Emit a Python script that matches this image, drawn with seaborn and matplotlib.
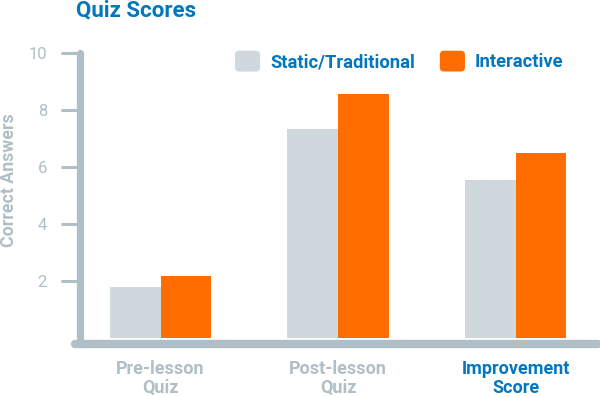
import seaborn as sns
import pandas as pd
import matplotlib as mpl
from matplotlib import pyplot as plt
from matplotlib.patches import FancyBboxPatch
from matplotlib.legend_handler import HandlerPatch

# Chart values
categories = ["Pre-lesson\nQuiz", "Post-lesson\nQuiz", "Improvement\nScore"]
static_scores = [1.77, 7.31, 5.53]
interactive_scores = [2.15, 8.54, 6.47]
series_names = ["Static/Traditional", "Interactive"]
y_ticks = [2, 4, 6, 8, 10]

# Colours
GREY_BAR = "#cfd8dc"
ORANGE = "#ff6d00"
AXIS_GREY = "#b0bec5"
BLUE = "#0277bd"

df = pd.DataFrame({
    "category": categories * 2,
    "score": static_scores + interactive_scores,
    "series": [series_names[0]] * 3 + [series_names[1]] * 3,
})


class RoundedHandler(HandlerPatch):
    """Legend swatch drawn as a square with rounded corners"""

    def create_artists(self, legend, orig_handle, xdescent, ydescent,
                       width, height, fontsize, trans):
        patch = FancyBboxPatch((-xdescent, -ydescent), width, height,
                               boxstyle="round,pad=0,rounding_size=3",
                               facecolor=orig_handle.get_facecolor(),
                               edgecolor="none", transform=trans)
        return [patch]


sns.set_theme(style="white")
mpl.rcParams["font.family"] = ["Roboto", "DejaVu Sans"]

fig = plt.figure(figsize=(6, 3.96), dpi=100)
# axes frame: x from 75px to 598px, y from value 0 (337.7px) up to 10 (52.7px)
ax = fig.add_axes([75 / 600, 1 - 337.7 / 396, 523 / 600, 285 / 396])

sns.barplot(data=df, x="category", y="score", hue="series",
            palette=[GREY_BAR, ORANGE], width=0.57, saturation=1,
            linewidth=0, ax=ax)

px_per_cat = 177.6
ax.set_xlim((75 - 160.5) / px_per_cat, (598 - 160.5) / px_per_cat)
ax.set_ylim(0, 10)
ax.set_yticks(y_ticks)

# Spines: thick grey, only left and bottom
for side in ["top", "right"]:
    ax.spines[side].set_visible(False)
ax.spines["left"].set_position(("data", (79.7 - 160.5) / px_per_cat))
ax.spines["bottom"].set_position(("outward", 4.8))
for side in ["left", "bottom"]:
    ax.spines[side].set_color(AXIS_GREY)
    ax.spines[side].set_capstyle("round")
ax.spines["left"].set_linewidth(5.2)
ax.spines["bottom"].set_linewidth(6)

ax.tick_params(axis="y", length=13.5, width=2.2, color=AXIS_GREY,
               labelcolor=AXIS_GREY, labelsize=12, pad=10, left=True)
ax.tick_params(axis="x", length=0, pad=11)
for label in ax.get_xticklabels():
    label.set_fontsize(13)
    label.set_fontweight("bold")
    label.set_color(AXIS_GREY)
    label.set_linespacing(1.1)
ax.get_xticklabels()[-1].set_color(BLUE)

ax.set_xlabel("")
ax.set_ylabel("Correct Answers", fontsize=12.8, fontweight="bold", color=AXIS_GREY)
ax.yaxis.set_label_coords(-0.109, 0.553)

fig.text(76 / 600, 1 - 16 / 396, "Quiz Scores", fontsize=16, fontweight="bold",
         color=BLUE, va="baseline", ha="left")

handles, labels = ax.get_legend_handles_labels()
leg = ax.legend(handles, labels, loc="upper left",
                bbox_to_anchor=(235 / 600, 1 - 50.7 / 396),
                bbox_transform=fig.transFigure, ncol=2, frameon=False,
                handlelength=1.37, handleheight=1.37, handletextpad=0.55,
                columnspacing=1.35, borderaxespad=0, borderpad=0, fontsize=13.2,
                handler_map={h: RoundedHandler() for h in handles})
for text in leg.get_texts():
    text.set_color(BLUE)
    text.set_fontweight("bold")

plt.savefig("out.png", dpi=100)
